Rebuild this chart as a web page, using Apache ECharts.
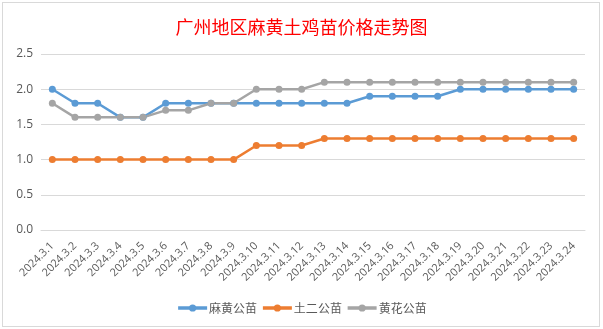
<!DOCTYPE html>
<html>
<head>
<meta charset="utf-8">
<script src="https://cdn.jsdelivr.net/npm/echarts@6/dist/echarts.min.js"></script>
<style>
  html, body { margin: 0; padding: 0; background: #ffffff; }
  #wrap { position: relative; width: 603px; height: 329px; overflow: hidden; }
  #frame { position: absolute; left: 2px; top: 2px; width: 596px; height: 323px; border: 1px solid #d9d9d9; background: #ffffff; }
  #chart { position: absolute; left: 0; top: 0; width: 603px; height: 329px; }
</style>
</head>
<body>
<div id="wrap">
  <div id="frame"></div>
  <div id="chart"></div>
</div>
<script>
// Dates of March 2024
const dates = ['2024.3.1','2024.3.2','2024.3.3','2024.3.4','2024.3.5','2024.3.6','2024.3.7','2024.3.8',
  '2024.3.9','2024.3.10','2024.3.11','2024.3.12','2024.3.13','2024.3.14','2024.3.15','2024.3.16',
  '2024.3.17','2024.3.18','2024.3.19','2024.3.20','2024.3.21','2024.3.22','2024.3.23','2024.3.24'];

// Prices per chick
const mahuang = [2.0,1.8,1.8,1.6,1.6,1.8,1.8,1.8,1.8,1.8,1.8,1.8,1.8,1.8,1.9,1.9,1.9,1.9,2.0,2.0,2.0,2.0,2.0,2.0];
const tuer    = [1.0,1.0,1.0,1.0,1.0,1.0,1.0,1.0,1.0,1.2,1.2,1.2,1.3,1.3,1.3,1.3,1.3,1.3,1.3,1.3,1.3,1.3,1.3,1.3];
const huanghua= [1.8,1.6,1.6,1.6,1.6,1.7,1.7,1.8,1.8,2.0,2.0,2.0,2.1,2.1,2.1,2.1,2.1,2.1,2.1,2.1,2.1,2.1,2.1,2.1];

const seriesNames = ['麻黄公苗', '土二公苗', '黄花公苗'];
const colors = ['#5b9bd5', '#ed7d31', '#a5a5a5'];

const chart = echarts.init(document.getElementById('chart'), null, { renderer: 'canvas' });

function lineSeries(name, data, color) {
  return {
    name: name,
    type: 'line',
    data: data,
    symbol: 'circle',
    symbolSize: 7,
    lineStyle: { width: 2.5, color: color },
    itemStyle: { color: color },
    emphasis: { disabled: true },
    animation: false
  };
}

chart.setOption({
  animation: false,
  title: {
    text: '广州地区麻黄土鸡苗价格走势图',
    left: 'center',
    top: 13,
    textStyle: {
      color: '#ff0000',
      fontSize: 18,
      fontWeight: 'normal',
      fontFamily: '"Noto Sans CJK SC", sans-serif'
    }
  },
  legend: {
    data: seriesNames,
    bottom: 10,
    left: 'center',
    itemWidth: 29,
    itemHeight: 9,
    itemGap: 4,
    lineStyle: { width: 3.5 },
    textStyle: {
      color: '#595959',
      fontSize: 12,
      padding: [0, 0, 0, -3],
      fontFamily: '"Noto Sans CJK SC", sans-serif'
    }
  },
  grid: { left: 41, right: 18, top: 54, bottom: 99, containLabel: false },
  xAxis: {
    type: 'category',
    data: dates,
    boundaryGap: true,
    axisLine: { show: true, lineStyle: { color: '#d9d9d9', width: 1 } },
    axisTick: { show: false },
    axisLabel: {
      rotate: 45,
      interval: 0,
      margin: 14,
      color: '#595959',
      fontSize: 11,
      fontFamily: '"Open Sans", "Noto Sans", sans-serif'
    }
  },
  yAxis: {
    type: 'value',
    min: 0,
    max: 2.5,
    interval: 0.5,
    axisLine: { show: false },
    axisTick: { show: false },
    splitLine: { lineStyle: { color: '#d9d9d9', width: 1 } },
    axisLabel: {
      color: '#595959',
      fontSize: 12,
      margin: 8,
      fontFamily: '"Open Sans", "Noto Sans", sans-serif',
      formatter: v => v.toFixed(1)
    }
  },
  series: [
    lineSeries(seriesNames[0], mahuang, colors[0]),
    lineSeries(seriesNames[1], tuer, colors[1]),
    lineSeries(seriesNames[2], huanghua, colors[2])
  ]
});
</script>
</body>
</html>
